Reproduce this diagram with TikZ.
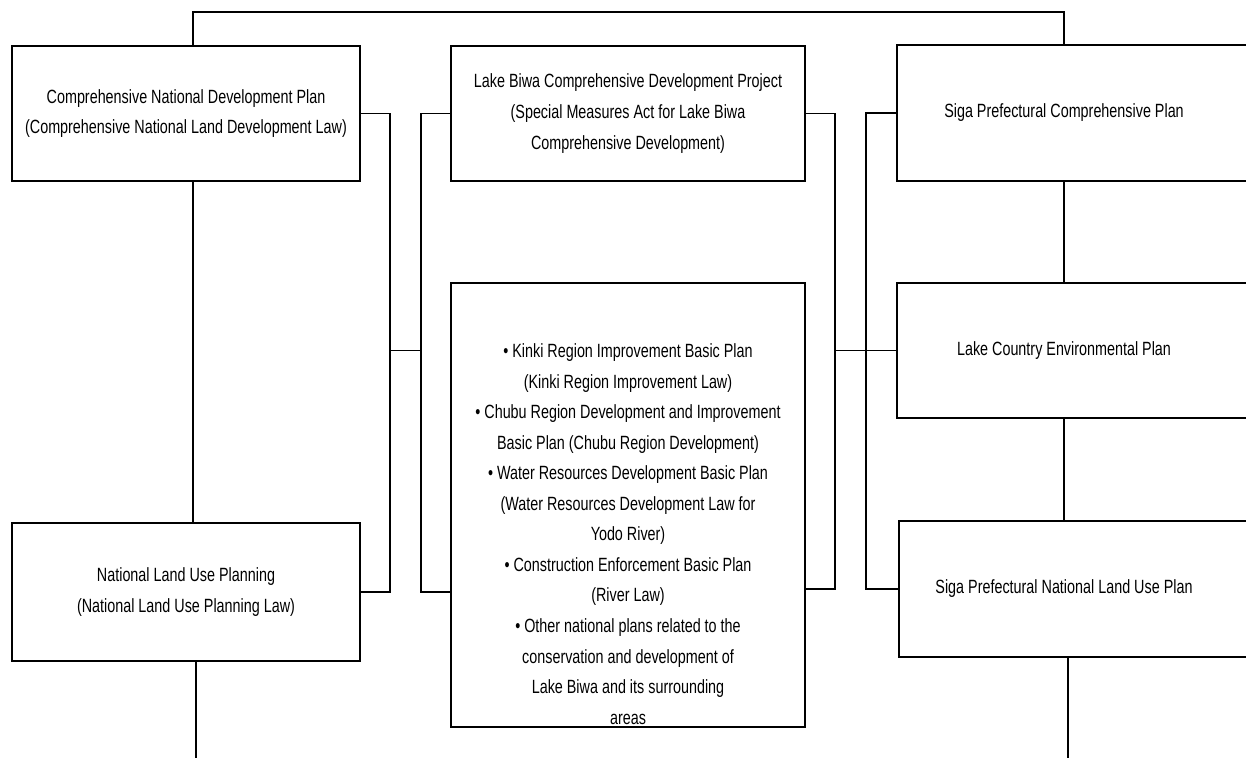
\documentclass[tikz,border=0pt]{standalone}
\usepackage{fontspec}
\setmainfont{Liberation Sans}[FakeStretch=0.75]
\usepackage{tikz}
\tikzset{
  box/.style={
    draw=black,line width=.9pt,minimum width=6.96cm,minimum height=2.7cm,
    inner sep=0pt,align=center,font=\fontsize{10.9}{17.4}\selectfont
  },
  sidebox/.style={
    draw=black,line width=.9pt,minimum width=8.6cm,minimum height=2.72cm,
    anchor=west
  },
  plantext/.style={align=center,font=\fontsize{10.9}{17.4}\selectfont},
  link/.style={draw=black,line width=.9pt}
}

\begin{document}
\begin{tikzpicture}[x=0.02cm,y=-0.02cm]
\useasboundingbox (0,0) rectangle (1246,757);
\clip (0,0) rectangle (1246,757);

% national plans
\node[box] (natplan) at (186,113.5)
{Comprehensive National Development Plan\\
(Comprehensive National Land Development Law)};

\node[box,minimum height=2.76cm] (landuse) at (186,592)
{National Land Use Planning\\
(National Land Use Planning Law)};

% lake biwa plans
\node[box,minimum width=7.08cm] (biwa) at (628,113.5)
{Lake Biwa Comprehensive Development Project\\
(Special Measures Act for Lake Biwa\\
Comprehensive Development)};

\node[box,minimum width=7.08cm,minimum height=8.88cm] (regional) at (628,505) {};
\node[plantext] (regionaltext) at (628,534)
{\textbullet\ Kinki Region Improvement Basic Plan\\
(Kinki Region Improvement Law)\\
\textbullet\ Chubu Region Development and Improvement\\
Basic Plan (Chubu Region Development)\\
\textbullet\ Water Resources Development Basic Plan\\
(Water Resources Development Law for\\
Yodo River)\\
\textbullet\ Construction Enforcement Basic Plan\\
(River Law)\\
\textbullet\ Other national plans related to the\\
conservation and development of\\
Lake Biwa and its surrounding\\
areas};

% prefecture plans, cut at the page edge
\node[sidebox] (shigaplan) at (896,113) {};
\node[plantext] (shigaplantext) at (1064,113) {Siga Prefectural Comprehensive Plan};

\node[sidebox,minimum height=2.7cm] (lakeenv) at (896,350.5) {};
\node[plantext] (lakeenvtext) at (1064,350.5) {Lake Country Environmental Plan};

\node[sidebox] (shigaland) at (898,589) {};
\node[plantext] (shigalandtext) at (1064,589) {Siga Prefectural National Land Use Plan};

\coordinate (topbar) at (0,12);
\coordinate (pagefoot) at (0,770);
\coordinate (lb1) at (390,0);
\coordinate (lb2) at (421,0);
\coordinate (rb1) at (835,0);
\coordinate (rb2) at (866,0);

% spines
\draw[link] ([xshift=.14cm]natplan.north) |- (topbar -| shigaplantext)
  -- (shigaplantext |- shigaplan.north);
\draw[link] ([xshift=.14cm]natplan.south) -- ([xshift=.14cm]landuse.north);
\draw[link] ([xshift=.2cm]landuse.south) coordinate (lfoot) -- (lfoot |- pagefoot);
\draw[link] (shigaplantext |- shigaplan.south) -- (shigaplantext |- lakeenv.north);
\draw[link] (lakeenvtext |- lakeenv.south) -- (lakeenvtext |- shigaland.north);
\draw[link] ([xshift=.08cm]shigalandtext |- shigaland.south) coordinate (rfoot)
  -- (rfoot |- pagefoot);

% brackets
\draw[link] (natplan.east) -| (lb1 |- landuse.east) -- (landuse.east);
\draw[link] (biwa.west) -| (lb2 |- landuse.east) -- (regional.west |- landuse.east);
\draw[link] (lb1 |- lakeenv.west) -- (lb2 |- lakeenv.west);
\draw[link] (biwa.east) -| (rb1 |- shigaland.west) -- (regional.east |- shigaland.west);
\draw[link] (shigaplan.west) -| (rb2 |- shigaland.west) -- (shigaland.west);
\draw[link] (rb1 |- lakeenv.west) -- (lakeenv.west);
\end{tikzpicture}
\end{document}
